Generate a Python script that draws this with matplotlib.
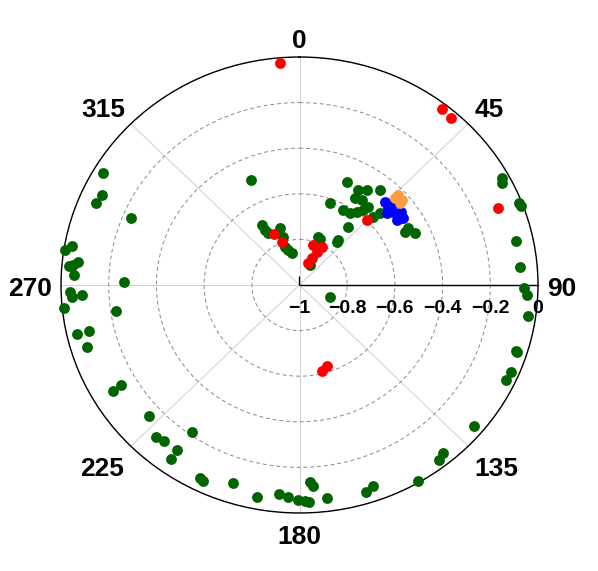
import numpy as np
import matplotlib
matplotlib.use("Agg")
import matplotlib.pyplot as plt

plt.rcParams['font.family'] = ['Liberation Sans', 'DejaVu Sans']
plt.rcParams['font.weight'] = 'bold'

# angles in degrees (clockwise from north), radius on a -1..0 scale
green_theta = [61.0, 62.3, 68.6, 69.5, 78.0, 85.1, 90.8, 92.6, 98.1, 107.7,
               107.8, 113.2, 115.7, 130.3, 140.8, 142.7, 149.9, 163.0, 160.8, 173.0,
               177.1, 176.3, 177.6, 178.6, 180.4, 183.0, 185.3, 190.8, 197.8, 239.2,
               239.6, 227.6, 222.0, 219.7, 215.3, 215.2, 214.9, 206.2, 205.2, 300.9,
               295.6, 292.9, 292.6, 280.1, 278.9, 276.2, 274.9, 275.3, 272.7, 271.0,
               268.2, 266.8, 267.2, 264.2, 261.6, 257.0, 257.1, 253.0, 329.2, 329.1,
               329.9, 341.9, 341.8, 340.0, 342.6, 347.4, 20.2, 23.0, 39.8, 26.6,
               336.2, 23.7, 19.5, 30.4, 34.1, 38.8, 31.3, 35.0, 29.0, 33.8,
               36.9, 38.9, 40.0, 45.9, 46.8, 38.6, 39.2, 61.2, 64.7, 62.2,
               112.4]
green_r = [-0.03, -0.04, -0.01, -0.01, -0.07, -0.074, -0.06, -0.047, -0.034, -0.049,
           -0.04, -0.033, -0.041, -0.043, -0.05, -0.036, -0.006, -0.051, -0.066, -0.059,
           -0.135, -0.116, -0.047, -0.053, -0.057, -0.069, -0.079, -0.053, -0.088, -0.092,
           -0.134, -0.147, -0.103, -0.112, -0.113, -0.067, -0.214, -0.057, -0.05, -0.042,
           -0.084, -0.076, -0.236, -0.029, -0.006, -0.064, -0.032, -0.048, -0.055, -0.266,
           -0.039, -0.043, -0.089, -0.006, -0.224, -0.044, -0.096, -0.07, -0.694, -0.719,
           -0.737, -0.737, -0.779, -0.823, -0.839, -0.856, -0.776, -0.781, -0.755, -0.902,
           -0.497, -0.507, -0.618, -0.517, -0.497, -0.463, -0.553, -0.545, -0.624, -0.62,
           -0.6, -0.577, -0.554, -0.572, -0.538, -0.675, -0.745, -0.482, -0.466, -0.501,
           -0.862]

red_theta = [355.2, 37.7, 40.9, 67.9, 334.5, 338.8, 17.9, 29.4, 26.8, 23.8,
             20.2, 44.7, 166.0, 162.1]
red_r = [-0.023, -0.025, -0.031, -0.103, -0.752, -0.798, -0.816, -0.809, -0.838, -0.871,
         -0.897, -0.599, -0.611, -0.627]

blue_theta = [44.5, 47.6, 50.7, 54.1, 55.8, 49.2, 55.1, 47.8, 53.0]
blue_r = [-0.49, -0.499, -0.495, -0.491, -0.477, -0.516, -0.502, -0.478, -0.468]

orange_theta = [46.2, 49.5, 46.3, 49.0]
orange_r = [-0.429, -0.447, -0.448, -0.432]

angle_ticks = [0, 45, 90, 135, 180, 225, 270, 315]
# where each angle label sits relative to the rim (pixels)
angle_label_offsets = [(0, 16), (21, 14), (24, -4), (28, -23), (0, -24), (-29, -23), (-31, -4), (-28, 14)]
r_ticks = [-1, -0.8, -0.6, -0.4, -0.2, 0]
r_labels = ['\u22121', '\u22120.8', '\u22120.6', '\u22120.4', '\u22120.2', '0']

fig = plt.figure(figsize=(5.98, 5.71), dpi=100)
ax = fig.add_axes([61 / 598, 58 / 571, 477 / 598, 456 / 571], projection='polar')
ax.set_aspect('auto')
ax.set_theta_zero_location('N')
ax.set_theta_direction(-1)
ax.set_ylim(-1, 0)

ax.set_thetagrids(angle_ticks, [''] * len(angle_ticks))
ax.set_rgrids(r_ticks, [''] * len(r_ticks))
ax.xaxis.grid(True, color='#d4d4d4', lw=0.8, ls='-')
ax.yaxis.grid(True, color='#8a8a8a', lw=0.7, ls=(0, (4, 3)))
ax.spines['polar'].set_color('black')
ax.spines['polar'].set_linewidth(1.0)

for a, off in zip(angle_ticks, angle_label_offsets):
    ax.annotate(str(a), xy=(np.deg2rad(a), 0), xytext=off, textcoords='offset pixels',
                ha='center', va='center', fontsize=19, fontweight='bold',
                annotation_clip=False)

# radial axis along 90 degrees
ax.plot([np.pi / 2, np.pi / 2], [-1, 0], color='black', lw=1.0, zorder=3)
ax.annotate('', xy=(np.pi / 2, -1), xytext=(0, 8), textcoords='offset pixels',
            arrowprops=dict(arrowstyle='-', color='black', lw=1.0, shrinkA=0, shrinkB=0))
for r, lab in zip(r_ticks, r_labels):
    ax.annotate(lab, xy=(np.pi / 2, r), xytext=(0, -15), textcoords='offset pixels',
                ha='center', va='top', fontsize=14, fontweight='bold',
                annotation_clip=False)

ms = 7.8
ax.plot(np.deg2rad(green_theta), green_r, 'o', color='#006400', ms=ms, mew=0, zorder=4)
ax.plot(np.deg2rad(red_theta), red_r, 'o', color='#ff0000', ms=ms, mew=0, zorder=5)
ax.plot(np.deg2rad(blue_theta), blue_r, 'o', color='#0000ff', ms=ms, mew=0, zorder=5)
ax.plot(np.deg2rad(orange_theta), orange_r, 'o', color='#fb9d3e', ms=ms, mew=0, zorder=6)

for p in ax.lines:
    p.set_clip_on(False)

fig.savefig('out.png', dpi=100)
